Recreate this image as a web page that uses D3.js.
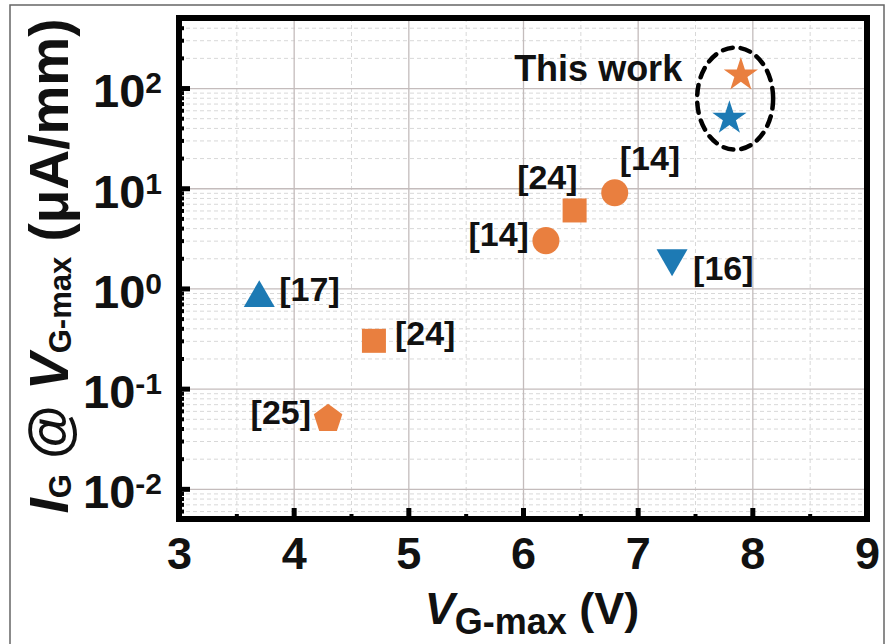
<!DOCTYPE html>
<html>
<head>
<meta charset="utf-8">
<script src="https://cdn.jsdelivr.net/npm/d3@7"></script>
<style>
    body { margin: 0; background: #fff; }
    text { font-family: "Liberation Sans", Arial, sans-serif; font-weight: bold; fill: #111; }
</style>
</head>
<body>
<div id="chart"></div>
<script>
// ===============================================
// Data
// ===============================================
const refs     = ["[17]", "[24]", "[25]", "[14]", "[24]", "[14]", "[16]", "This work", "This work"];
const vgMax    = [3.7, 4.7, 4.3, 6.2, 6.45, 6.8, 7.3, 7.9, 7.8];      // V
const igAtVg   = [0.8, 0.3, 0.05, 3, 6, 9, 2, 135, 50];               // uA/mm
const shapes   = ["triangle", "square", "pentagon", "circle", "square", "circle", "triangleDown", "star", "star"];
const groups   = ["blue", "orange", "orange", "orange", "orange", "orange", "blue", "orange", "blue"];

const xTicks = [3, 4, 5, 6, 7, 8, 9];
const yTicks = [0.01, 0.1, 1, 10, 100];
const yExponents = ["-2", "-1", "0", "1", "2"];

// label placement relative to each marker [dx, dy, anchor]
const labelOffsets = [
    [20, 3, "start"], [21, 4, "start"], [-17, 5, "end"], [-17, 5, "end"],
    [3, -21, "end"], [5, -23, "start"], [21, 22, "start"], null, null
];

// ===============================================
// Layout
// ===============================================
const margin = {top: 18, right: 27, bottom: 125, left: 179};
const width = 894 - margin.left - margin.right;
const height = 644 - margin.top - margin.bottom;

const colors = {orange: "#E97F3F", blue: "#1D7AB4"};

const root = d3.select("#chart")
    .append("svg")
    .attr("width", 894)
    .attr("height", 644);

// thin outer border of the figure
root.append("rect")
    .attr("x", 10).attr("y", 5)
    .attr("width", 874).attr("height", 660)
    .attr("fill", "none")
    .attr("stroke", "#666")
    .attr("stroke-width", 1.5);

const svg = root.append("g")
    .attr("transform", `translate(${margin.left},${margin.top})`);

// Scales
const x = d3.scaleLinear().domain([3, 9]).range([0, width]);
const y = d3.scaleLog().domain([0.005, 500]).range([height, 0]);

const xMinor = d3.range(3.5, 9, 1);
const yMinor = [];
[-3, -2, -1, 0, 1, 2].forEach(e => {
    for (let k = 2; k <= 9; k++) {
        const v = k * Math.pow(10, e);
        if (v > 0.005 && v < 500) yMinor.push(v);
    }
});

// ---- grid lines
svg.append("g")
    .call(d3.axisBottom(x).tickValues(xMinor).tickSize(height).tickFormat(""))
    .call(g => g.select(".domain").remove())
    .selectAll("line")
    .attr("stroke", "#d8d8d8").attr("stroke-dasharray", "4,3");

svg.append("g")
    .call(d3.axisLeft(y).tickValues(yMinor).tickSize(-width).tickFormat(""))
    .call(g => g.select(".domain").remove())
    .selectAll("line")
    .attr("stroke", "#d8d8d8").attr("stroke-dasharray", "4,3");

svg.append("g")
    .call(d3.axisBottom(x).tickValues(xTicks.slice(1, -1)).tickSize(height).tickFormat(""))
    .call(g => g.select(".domain").remove())
    .selectAll("line")
    .attr("stroke", "#c4bcbc").attr("stroke-width", 1.3);

svg.append("g")
    .call(d3.axisLeft(y).tickValues(yTicks).tickSize(-width).tickFormat(""))
    .call(g => g.select(".domain").remove())
    .selectAll("line")
    .attr("stroke", "#c4bcbc").attr("stroke-width", 1.3);

// ---- axes (ticks point inward)
const xAxis = svg.append("g")
    .attr("transform", `translate(0,${height})`)
    .call(d3.axisBottom(x).tickValues(xTicks).tickSizeInner(-11).tickSizeOuter(0).tickPadding(18).tickFormat(d3.format("d")));
xAxis.select(".domain").remove();
xAxis.selectAll("line").attr("stroke", "#000").attr("stroke-width", 5);
xAxis.selectAll("text")
    .attr("font-size", 45)
    .attr("font-family", "Liberation Sans, Arial, sans-serif")
    .attr("font-weight", "bold")
    .attr("fill", "#111");

svg.append("g")
    .attr("transform", `translate(0,${height})`)
    .call(d3.axisBottom(x).tickValues(xMinor).tickSizeInner(-5).tickSizeOuter(0).tickFormat(""))
    .call(g => g.select(".domain").remove())
    .selectAll("line").attr("stroke", "#000").attr("stroke-width", 4);

const yAxis = svg.append("g")
    .call(d3.axisLeft(y).tickValues(yTicks).tickSizeInner(-11).tickSizeOuter(0).tickPadding(17).tickFormat(""));
yAxis.select(".domain").remove();
yAxis.selectAll("line").attr("stroke", "#000").attr("stroke-width", 5);
yAxis.selectAll(".tick text")
    .attr("font-size", 47)
    .attr("font-family", "Liberation Sans, Arial, sans-serif")
    .attr("font-weight", "bold")
    .attr("fill", "#111")
    .attr("dy", "0.4em")
    .each(function(d, i) {
        const t = d3.select(this);
        t.append("tspan").text("10");
        t.append("tspan").attr("font-size", 30).attr("dy", -14).text(yExponents[i]);
    });

svg.append("g")
    .call(d3.axisLeft(y).tickValues(yMinor).tickSizeInner(-5).tickSizeOuter(0).tickFormat(""))
    .call(g => g.select(".domain").remove())
    .selectAll("line").attr("stroke", "#000").attr("stroke-width", 4);

// ---- frame
svg.append("rect")
    .attr("x", 0).attr("y", 0)
    .attr("width", width).attr("height", height)
    .attr("fill", "none")
    .attr("stroke", "#000")
    .attr("stroke-width", 6);

// ---- axis titles
const xTitle = svg.append("text")
    .attr("x", width / 2 + 9)
    .attr("y", height + 105)
    .attr("text-anchor", "middle")
    .attr("font-size", 45);
xTitle.append("tspan").attr("font-style", "italic").text("V");
xTitle.append("tspan").attr("font-size", 36).attr("dy", 10).text("G-max");
xTitle.append("tspan").attr("dy", -10).text(" (V)");

const yTitle = svg.append("text")
    .attr("transform", "rotate(-90)")
    .attr("x", -(266 - margin.top))
    .attr("y", 68 - margin.left)
    .attr("text-anchor", "middle")
    .attr("font-size", 55);
yTitle.append("tspan").attr("font-style", "italic").text("I");
yTitle.append("tspan").attr("font-size", 31).attr("dy", 3).text("G");
yTitle.append("tspan").attr("dy", -3).text(" @ ");
yTitle.append("tspan").attr("font-style", "italic").text("V");
yTitle.append("tspan").attr("font-size", 31).attr("dy", 3).text("G-max");
yTitle.append("tspan").attr("dy", -3).text(" (\u03BCA/mm)");

// ---- markers
const symbolOf = {
    circle: d3.symbol().type(d3.symbolCircle).size(573),
    square: d3.symbol().type(d3.symbolSquare).size(576),
    triangle: d3.symbol().type(d3.symbolTriangle).size(416),
    triangleDown: d3.symbol().type(d3.symbolTriangle).size(416),
    star: d3.symbol().type(d3.symbolStar).size(364),
    pentagon: () => d3.lineRadial()
        .angle(i => i * 2 * Math.PI / 5)
        .radius(15)
        .curve(d3.curveLinearClosed)(d3.range(5))
};

const points = vgMax.map((v, i) => ({
    ref: refs[i], vg: v, ig: igAtVg[i], shape: shapes[i], group: groups[i], offset: labelOffsets[i]
}));

svg.selectAll(".marker")
    .data(points)
    .enter()
    .append("path")
    .attr("class", "marker")
    .attr("d", d => symbolOf[d.shape]())
    .attr("transform", d => `translate(${x(d.vg)},${y(d.ig)})` + (d.shape === "triangleDown" ? " rotate(180)" : ""))
    .attr("fill", d => colors[d.group]);

svg.selectAll(".ref-label")
    .data(points.filter(d => d.offset))
    .enter()
    .append("text")
    .attr("class", "ref-label")
    .attr("x", d => x(d.vg) + d.offset[0])
    .attr("y", d => y(d.ig) + d.offset[1])
    .attr("text-anchor", d => d.offset[2])
    .attr("font-size", 34)
    .text(d => d.ref);

// ---- "This work" highlight
const ours = points.filter(d => d.ref === "This work");
const cx = d3.mean(ours, d => x(d.vg));
const cy = d3.mean(ours, d => y(d.ig)) + 2;

svg.append("ellipse")
    .attr("cx", cx)
    .attr("cy", cy)
    .attr("rx", 38)
    .attr("ry", 51)
    .attr("fill", "none")
    .attr("stroke", "#000")
    .attr("stroke-width", 4.5)
    .attr("stroke-dasharray", "10,8")
    .attr("stroke-linecap", "round");

svg.append("text")
    .attr("x", cx - 221)
    .attr("y", cy - 18)
    .attr("font-size", 36)
    .text("This work");
</script>
</body>
</html>
